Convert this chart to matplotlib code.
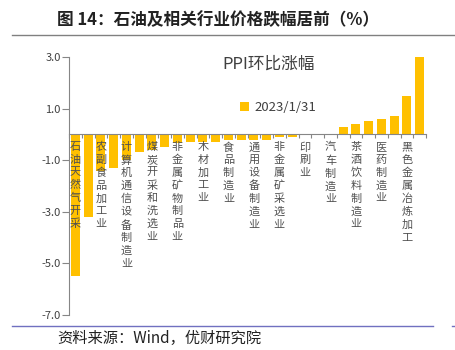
import matplotlib.pyplot as plt
import numpy as np

plt.rcParams['font.family'] = ['Noto Sans CJK SC', 'DejaVu Sans']

# PPI 环比涨幅 (%), 2023/1/31，按行业排序
values = [-5.5, -3.2, -1.4, -1.3, -1.0, -0.67, -0.6, -0.48, -0.35, -0.31,
          -0.3, -0.28, -0.2, -0.2, -0.2, -0.2, -0.1, -0.1, 0.0, 0.0,
          0.0, 0.3, 0.4, 0.5, 0.6, 0.7, 1.5, 3.0]
# 只标注奇数位置的行业名称
labels = ['石油天然气开采', '', '农副食品加工业', '', '计算机通信设备制造业', '',
          '煤炭开采和洗选业', '', '非金属矿物制品业', '', '木材加工业', '',
          '食品制造业', '', '通用设备制造业', '', '非金属矿采选业', '',
          '印刷业', '', '汽车制造业', '', '茶酒饮料制造业', '',
          '医药制造业', '', '黑色金属冶炼加工', '']
yticks = [3.0, 1.0, -1.0, -3.0, -5.0, -7.0]

BAR = '#FFC000'
GREY = '#404040'

fig = plt.figure(figsize=(4.55, 3.5), dpi=100)
ax = fig.add_axes([69/455, 35/350, (426-69)/455, (293-35)/350])

x = np.arange(len(values)) + 0.5
ax.bar(x, values, 0.7, color=BAR, label='2023/1/31', zorder=2)

ax.set_xlim(0, len(values))
ax.set_ylim(-7, 3)
ax.set_yticks(yticks)
ax.set_yticklabels(['%.1f' % v for v in yticks], fontsize=8, color=GREY)
ax.set_xticks(np.arange(len(values) + 1))
ax.set_xticklabels([])
ax.tick_params(axis='x', length=3, color='#868686', width=0.8)
ax.tick_params(axis='y', length=5, color='#868686', width=0.8, pad=1)

for s in ['top', 'right']:
    ax.spines[s].set_visible(False)
ax.spines['bottom'].set_position(('data', 0))
ax.spines['bottom'].set_zorder(3)
for s in ['left', 'bottom']:
    ax.spines[s].set_color('#868686')
    ax.spines[s].set_linewidth(0.8)

# 竖排行业名称
for xi, lab in zip(x, labels):
    if lab:
        ax.text(xi, -0.3, '\n'.join(lab), ha='center', va='top',
                fontsize=8, color='#505050', linespacing=1.33, zorder=4)

fig.text(222/455, 1 - 64/350, 'PPI环比涨幅', fontsize=12, color=GREY,
         ha='left', va='center')
ax.legend(loc='center left', bbox_to_anchor=(233/455, 1 - 108/350),
          bbox_transform=fig.transFigure, frameon=False, fontsize=9.5,
          handlelength=0.7, handleheight=0.7, handletextpad=0.4,
          borderpad=0, labelcolor=GREY)

# 标题与来源
fig.text(57/455, 1 - 20/350, '图 14：石油及相关行业价格跌幅居前（%）',
         fontsize=12, fontweight='bold', color='#222222', ha='left', va='center')
fig.add_artist(plt.Line2D([12/455, 1], [1 - 35/350] * 2, color='#808080', lw=1))
fig.add_artist(plt.Line2D([12/455, 433/455], [1 - 326/350] * 2, color='#7070C0', lw=1))
fig.add_artist(plt.Line2D([452/455, 1], [1 - 326/350] * 2, color='#7070C0', lw=1))
fig.text(57/455, 1 - 338/350, '资料来源：Wind，优财研究院', fontsize=11,
         color='#222222', ha='left', va='center')

plt.savefig('out.png', dpi=100)
